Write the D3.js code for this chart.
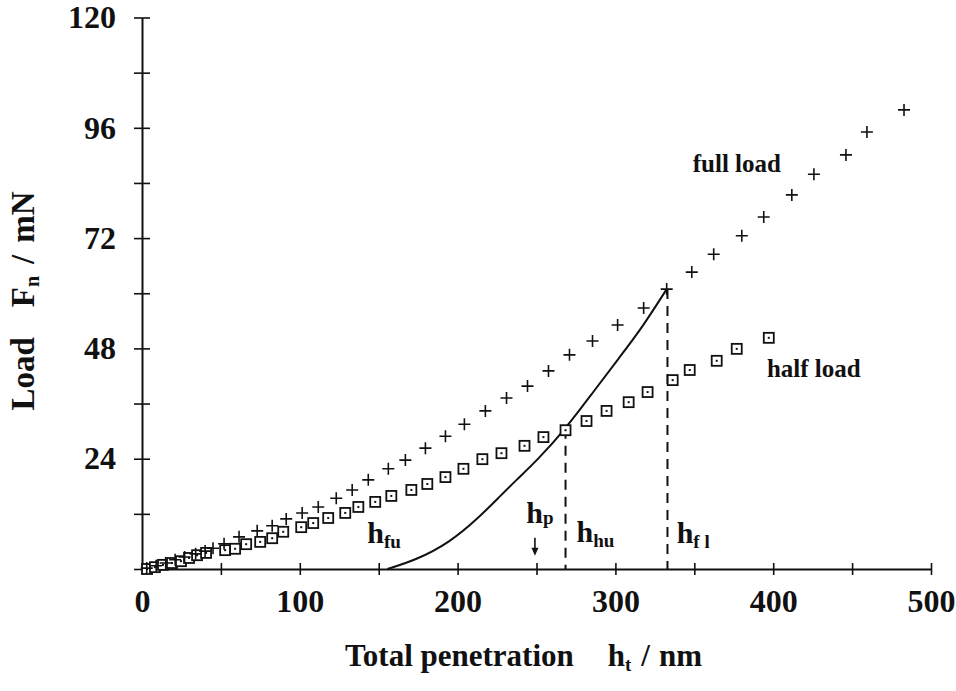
<!DOCTYPE html>
<html>
<head>
<meta charset="utf-8">
<script src="https://cdn.jsdelivr.net/npm/d3@7/dist/d3.min.js"></script>
<style>
  body { margin: 0; background: #fff; }
</style>
</head>
<body>
<div id="chart"></div>
<script>
// full load (+)
var fullX = [3, 9, 15, 21, 27, 34, 40, 45, 52, 61.5, 73, 82.5, 91.4, 101.5, 111.7, 123.1, 133.2, 143.4, 156.1, 166.9,
    179.6, 192.3, 204.3, 217.6, 231, 244.3, 257.6, 270.9, 285.5, 301.4, 317.9, 332.5, 348.4, 362.3, 380.1, 394,
    411.8, 425.8, 446.1, 459.4, 482.9];
var fullY = [0.2, 0.7, 1.3, 2.0, 2.6, 3.3, 3.9, 4.5, 5.5, 7.0, 8.3, 9.4, 10.9, 12.2, 13.5, 15.4, 17.2, 19.4, 21.8, 23.7,
    26.3, 28.9, 31.5, 34.4, 37.2, 39.8, 43.1, 46.6, 49.6, 53.1, 56.8, 60.9, 64.6, 68.5, 72.5, 76.6,
    81.4, 85.9, 90.1, 95.1, 99.9];

// half load (squares)
var halfX = [3.2, 8.2, 13.3, 19, 24.7, 29.8, 34.9, 40.6, 52.7, 59, 66, 74.9, 82.5, 89.5, 100.9, 108.5, 118, 128.8,
    137.1, 147.8, 158, 170.7, 180.8, 192.3, 203.7, 215.7, 227.8, 242.4, 254.4, 268.4, 281.7, 294.4, 308.4,
    320.4, 336.3, 347.1, 364.2, 376.9, 397.2];
var halfY = [0, 0.4, 0.9, 1.3, 1.7, 2.4, 3.0, 3.5, 4.1, 4.4, 5.4, 5.9, 6.7, 8.1, 9.1, 10.0, 11.1, 12.2,
    13.5, 14.6, 15.9, 17.2, 18.5, 20.0, 21.8, 23.9, 25.2, 26.8, 28.7, 30.2, 32.2, 34.4, 36.3,
    38.5, 41.1, 43.3, 45.3, 47.9, 50.3];

// unloading curve
var unloadX = [155.5, 173.9, 194.8, 213.8, 226.5, 237.3, 250.6, 268.4, 285.5, 302.7, 317.3, 332.5];
var unloadY = [0, 2.0, 5.7, 11.3, 15.7, 19.4, 23.7, 30.5, 38.3, 46.1, 52.7, 60.9];

// dashed drop lines [h, F]
var dropLines = [[268.4, 30.5], [333, 60.9]];
var hpValue = 249;

var xMajor = [0, 100, 200, 300, 400, 500],
    xMinor = [50, 150, 250, 350, 450];
var yMajor = [0, 24, 48, 72, 96, 120],
    yMinor = [12, 36, 60, 84, 108];

var width = 956, height = 691;
var margin = { top: 17.5, right: 25, bottom: 122, left: 142 };
var serif = "'Liberation Serif', 'DejaVu Serif', serif";

var svg = d3.select("#chart")
    .append("svg")
    .attr("width", width)
    .attr("height", height)
    .attr("font-family", serif)
    .attr("font-weight", "bold");

var x = d3.scaleLinear()
    .domain([0, 500])
    .range([margin.left, 931]);

var y = d3.scaleLinear()
    .domain([0, 120])
    .range([569, margin.top]);

/* axes */
var xAxis = svg.append("g")
    .attr("transform", "translate(0," + y(0) + ")")
    .call(d3.axisBottom(x)
        .tickValues(xMajor.concat(xMinor))
        .tickFormat(function(d) { return xMajor.indexOf(d) >= 0 ? d : ""; })
        .tickSize(6)
        .tickSizeOuter(0)
        .tickPadding(14));

xAxis.attr("font-family", serif).attr("font-size", 32);
xAxis.selectAll(".tick line").attr("y1", -6).attr("stroke", "#111").attr("stroke-width", 1.6);
xAxis.select(".domain").attr("stroke", "#111").attr("stroke-width", 2);
xAxis.selectAll(".tick text").attr("fill", "#111");

var yAxis = svg.append("g")
    .attr("transform", "translate(" + x(0) + ",0)")
    .call(d3.axisLeft(y)
        .tickValues(yMajor.concat(yMinor))
        .tickFormat(function(d) { return yMajor.indexOf(d) >= 0 && d != 0 ? d : ""; })
        .tickSize(8)
        .tickSizeOuter(0)
        .tickPadding(18));

yAxis.attr("font-family", serif).attr("font-size", 32);
yAxis.selectAll(".tick line").attr("x1", 8).attr("stroke", "#111").attr("stroke-width", 1.6);
yAxis.select(".domain").attr("stroke", "#111").attr("stroke-width", 2);
yAxis.selectAll(".tick text").attr("fill", "#111");

/* axis titles */
var yTitle = svg.append("text")
    .attr("transform", "translate(34,301) rotate(-90)")
    .attr("text-anchor", "middle")
    .attr("font-size", 33)
    .attr("fill", "#111");
yTitle.append("tspan").text("Load");
yTitle.append("tspan").attr("dx", 30).text("F");
yTitle.append("tspan").attr("font-size", 20).attr("dy", 5).text("n");
yTitle.append("tspan").attr("dy", -5).attr("dx", 12).text("/");
yTitle.append("tspan").attr("dx", 12).text("mN");

var xTitle = svg.append("text")
    .attr("x", 345)
    .attr("y", 666)
    .attr("font-size", 31)
    .attr("fill", "#111");
xTitle.append("tspan").text("Total penetration");
xTitle.append("tspan").attr("dx", 34).text("h");
xTitle.append("tspan").attr("font-size", 19).attr("dy", 5).text("t");
xTitle.append("tspan").attr("dy", -5).attr("dx", 10).text("/");
xTitle.append("tspan").attr("dx", 9).text("nm");

/* unloading curve */
var line = d3.line()
    .x(function(d) { return x(d[0]); })
    .y(function(d) { return y(d[1]); })
    .curve(d3.curveBasis);

svg.append("path")
    .datum(d3.zip(unloadX, unloadY))
    .attr("d", line)
    .attr("fill", "none")
    .attr("stroke", "#111")
    .attr("stroke-width", 2);

/* dashed drop lines */
svg.selectAll(".drop")
    .data(dropLines)
    .enter()
    .append("line")
    .attr("class", "drop")
    .attr("x1", function(d) { return x(d[0]); })
    .attr("x2", function(d) { return x(d[0]); })
    .attr("y1", function(d) { return y(d[1]); })
    .attr("y2", y(0))
    .attr("stroke", "#111")
    .attr("stroke-width", 2)
    .attr("stroke-dasharray", "10,7");

/* half load squares */
var sq = svg.selectAll(".sq")
    .data(d3.zip(halfX, halfY))
    .enter()
    .append("g")
    .attr("class", "sq")
    .attr("transform", function(d) { return "translate(" + x(d[0]) + "," + y(d[1]) + ")"; });

sq.append("rect")
    .attr("x", -5).attr("y", -5)
    .attr("width", 10).attr("height", 10)
    .attr("fill", "#fff")
    .attr("stroke", "#111")
    .attr("stroke-width", 1.8);

sq.append("rect")
    .attr("x", -1).attr("y", -1)
    .attr("width", 2).attr("height", 2)
    .attr("fill", "#111");

/* full load pluses */
svg.selectAll(".plus")
    .data(d3.zip(fullX, fullY))
    .enter()
    .append("path")
    .attr("class", "plus")
    .attr("transform", function(d) { return "translate(" + x(d[0]) + "," + y(d[1]) + ")"; })
    .attr("d", "M-6,0H6M0,-6V6")
    .attr("stroke", "#111")
    .attr("stroke-width", 1.6);

/* hp arrow */
svg.append("line")
    .attr("x1", x(hpValue)).attr("x2", x(hpValue))
    .attr("y1", y(6.8)).attr("y2", y(3.4))
    .attr("stroke", "#111")
    .attr("stroke-width", 1.6);

svg.append("path")
    .attr("transform", "translate(" + x(hpValue) + "," + y(2.9) + ")")
    .attr("d", "M-3.5,-8L3.5,-8L0,0Z")
    .attr("fill", "#111");

/* labels */
var hLabels = [
    { sub: "fu", x: 142.8, y: 5.6, dy: 5 },
    { sub: "p", x: 243.5, y: 10.0, dy: 1 },
    { sub: "hu", x: 275.4, y: 5.9, dy: 5 },
    { sub: "f l", x: 338.8, y: 5.7, dy: 5 }
];

hLabels.forEach(function(l) {
    var t = svg.append("text")
        .attr("x", x(l.x))
        .attr("y", y(l.y))
        .attr("font-size", 30)
        .attr("fill", "#111");
    t.append("tspan").text("h");
    t.append("tspan")
        .attr("font-size", 19)
        .attr("dy", l.dy)
        .text(l.sub);
});

svg.append("text")
    .attr("x", x(349))
    .attr("y", y(86.4))
    .attr("font-size", 25)
    .attr("fill", "#111")
    .text("full load");

svg.append("text")
    .attr("x", x(396))
    .attr("y", y(41.8))
    .attr("font-size", 25)
    .attr("fill", "#111")
    .text("half load");
</script>
</body>
</html>
